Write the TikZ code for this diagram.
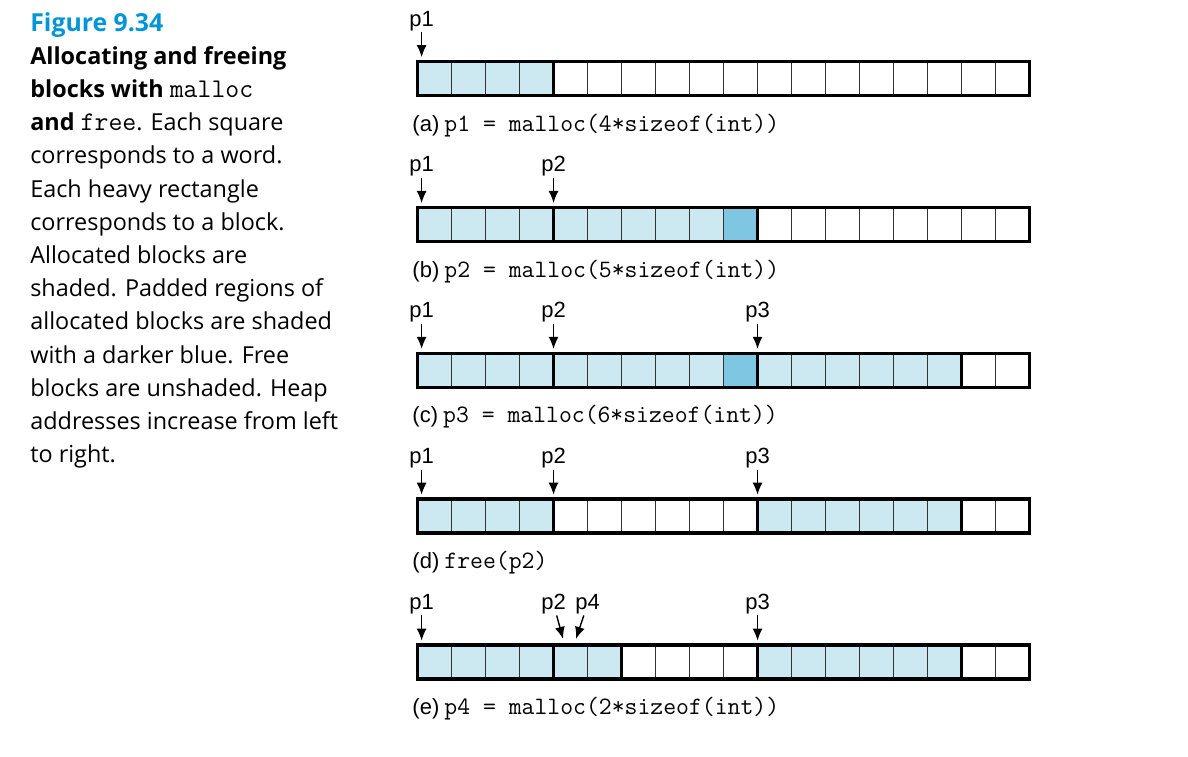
\documentclass[tikz,border=0pt]{standalone}
\usepackage{fontspec}
\setmainfont{Open Sans}
\newfontfamily\labelfont{Liberation Sans}
\usetikzlibrary{arrows.meta}
\definecolor{figblue}{RGB}{0,150,214}
\definecolor{usedblue}{RGB}{204,232,240}
\definecolor{padblue}{RGB}{126,198,226}

\newcommand{\heapcells}[3]{\foreach \i in {#1,...,#2} \draw[cell,fill=#3] (\i,0) rectangle ++(1,-1);}
\newcommand{\heapblocks}[1]{\foreach \s/\e in {#1} \draw[block] (\s,0) rectangle (\e,-1);}

\begin{document}
\begin{tikzpicture}[x=17pt,y=17pt,
		cell/.style={draw=black!80,line width=0.7pt},
		block/.style={draw=black,line width=1.7pt},
		ptr/.style={-{Latex[length=6pt,width=5pt]},line width=0.7pt},
		ptrlabel/.style={anchor=south,inner sep=0.5pt,font=\labelfont\fontsize{11}{13}\selectfont},
		caption/.style={anchor=base west,inner sep=0pt,font=\fontsize{12.5}{14}\selectfont}]
		\useasboundingbox (0,0) rectangle (34.94,-22.24);
		% figure text
		\node[anchor=north west,align=left,inner sep=0pt,font=\fontsize{11.7}{16.6}\selectfont] (legend) at (0.88,-0.35) {%
			{\color{figblue}\bfseries\fontsize{12.4}{16.6}\selectfont Figure 9.34}\\
			\textbf{Allocating and freeing}\\
			\textbf{blocks with {\ttfamily\mdseries\fontsize{13.5}{16.6}\selectfont malloc}}\\
			\textbf{and {\ttfamily\mdseries\fontsize{13.5}{16.6}\selectfont free}}. Each square\\
			corresponds to a word.\\
			Each heavy rectangle\\
			corresponds to a block.\\
			Allocated blocks are\\
			shaded. Padded regions of\\
			allocated blocks are shaded\\
			with a darker blue. Free\\
			blocks are unshaded. Heap\\
			addresses increase from left\\
			to right.};
		\begin{scope}[shift={(12.28,-1.81)}]
			% (a)
			\heapcells{0}{17}{white}
			\heapcells{0}{3}{usedblue}
			\heapblocks{0/4,4/18}
			\node[ptrlabel] (a-p1) at (0.12,0.87) {p1};
			\coordinate (a-p1t) at (0.12,0.13);
			\draw[ptr] (a-p1) -- (a-p1t);
			\node[caption] (a-cap) at (-0.16,-2.05) {{\labelfont\fontsize{11}{13}\selectfont(a)}\hspace{2.5pt}\texttt{p1 = malloc(4*sizeof(int))}};
			% (b)
			\begin{scope}[shift={(0,-4.29)}]
				\heapcells{0}{17}{white}
				\heapcells{0}{8}{usedblue}
				\heapcells{9}{9}{padblue}
				\heapblocks{0/4,4/10,10/18}
				\node[ptrlabel] (b-p1) at (0.12,0.87) {p1};
				\node[ptrlabel] (b-p2) at (4,0.87) {p2};
				\coordinate (b-p1t) at (0.12,0.13);
				\coordinate (b-p2t) at (4,0.13);
				\draw[ptr] (b-p1) -- (b-p1t);
				\draw[ptr] (b-p2) -- (b-p2t);
				\node[caption] (b-cap) at (-0.16,-2.05) {{\labelfont\fontsize{11}{13}\selectfont(b)}\hspace{2.5pt}\texttt{p2 = malloc(5*sizeof(int))}};
			\end{scope}
			% (c)
			\begin{scope}[shift={(0,-8.58)}]
				\heapcells{0}{17}{white}
				\heapcells{0}{8}{usedblue}
				\heapcells{9}{9}{padblue}
				\heapcells{10}{15}{usedblue}
				\heapblocks{0/4,4/10,10/16,16/18}
				\node[ptrlabel] (c-p1) at (0.12,0.87) {p1};
				\node[ptrlabel] (c-p2) at (4,0.87) {p2};
				\node[ptrlabel] (c-p3) at (10,0.87) {p3};
				\coordinate (c-p1t) at (0.12,0.13);
				\coordinate (c-p2t) at (4,0.13);
				\coordinate (c-p3t) at (10,0.13);
				\draw[ptr] (c-p1) -- (c-p1t);
				\draw[ptr] (c-p2) -- (c-p2t);
				\draw[ptr] (c-p3) -- (c-p3t);
				\node[caption] (c-cap) at (-0.16,-2.05) {{\labelfont\fontsize{11}{13}\selectfont(c)}\hspace{2.5pt}\texttt{p3 = malloc(6*sizeof(int))}};
			\end{scope}
			% (d)
			\begin{scope}[shift={(0,-12.87)}]
				\heapcells{0}{17}{white}
				\heapcells{0}{3}{usedblue}
				\heapcells{10}{15}{usedblue}
				\heapblocks{0/4,4/10,10/16,16/18}
				\node[ptrlabel] (d-p1) at (0.12,0.87) {p1};
				\node[ptrlabel] (d-p2) at (4,0.87) {p2};
				\node[ptrlabel] (d-p3) at (10,0.87) {p3};
				\coordinate (d-p1t) at (0.12,0.13);
				\coordinate (d-p2t) at (4,0.13);
				\coordinate (d-p3t) at (10,0.13);
				\draw[ptr] (d-p1) -- (d-p1t);
				\draw[ptr] (d-p2) -- (d-p2t);
				\draw[ptr] (d-p3) -- (d-p3t);
				\node[caption] (d-cap) at (-0.16,-2.05) {{\labelfont\fontsize{11}{13}\selectfont(d)}\hspace{2.5pt}\texttt{free(p2)}};
			\end{scope}
			% (e)
			\begin{scope}[shift={(0,-17.16)}]
				\heapcells{0}{17}{white}
				\heapcells{0}{5}{usedblue}
				\heapcells{10}{15}{usedblue}
				\heapblocks{0/4,4/6,6/10,10/16,16/18}
				\node[ptrlabel] (e-p1) at (0.12,0.87) {p1};
				\node[ptrlabel] (e-p2) at (4,0.87) {p2};
				\node[ptrlabel] (e-p4) at (5,0.87) {p4};
				\node[ptrlabel] (e-p3) at (10,0.87) {p3};
				\coordinate (e-p1t) at (0.12,0.13);
				\coordinate (e-p2t) at (4.28,0.18);
				\coordinate (e-p4t) at (4.66,0.18);
				\coordinate (e-p3t) at (10,0.13);
				\draw[ptr] (e-p1) -- (e-p1t);
				\draw[ptr] (e-p2) -- (e-p2t);
				\draw[ptr] (e-p4) -- (e-p4t);
				\draw[ptr] (e-p3) -- (e-p3t);
				\node[caption] (e-cap) at (-0.16,-2.05) {{\labelfont\fontsize{11}{13}\selectfont(e)}\hspace{2.5pt}\texttt{p4 = malloc(2*sizeof(int))}};
			\end{scope}
		\end{scope}
	\end{tikzpicture}
\end{document}
